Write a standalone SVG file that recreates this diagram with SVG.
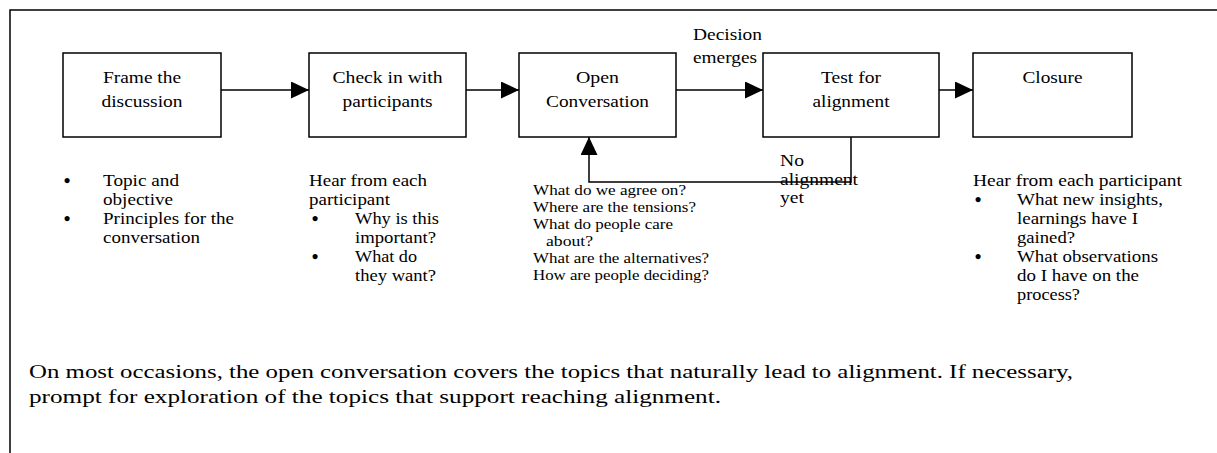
<svg xmlns="http://www.w3.org/2000/svg" width="1217" height="453" viewBox="0 0 1217 453">
<style>
.box{fill:#fff;stroke:#000;stroke-width:1.5}
.lbl{font-family:"Liberation Serif",serif;font-size:16px;fill:#000;text-anchor:middle}
.t{font-family:"Liberation Serif",serif;font-size:16px;fill:#000}
.s{font-family:"Liberation Serif",serif;font-size:14px;fill:#000}
.p{font-family:"Liberation Serif",serif;font-size:18px;fill:#000}
.b{font-family:"Liberation Serif",serif;font-size:19px;font-weight:bold;fill:#000;text-anchor:middle}
.c{fill:none;stroke:#000;stroke-width:1.5}
.frame{fill:none;stroke:#000;stroke-width:1.5}
</style>
<defs>
<marker id="ah" viewBox="0 0 18 17" refX="18" refY="8.5" markerWidth="18" markerHeight="17" markerUnits="userSpaceOnUse" orient="auto">
<path d="M0,0 L18,8.5 L0,17 z" fill="#000"/>
</marker>
</defs>
<rect width="1217" height="453" fill="#fff"/>
<path class="frame" d="M1217,10 H10 V453"/>

<g id="connectors">
<path class="c" d="M221,90 H309" marker-end="url(#ah)"/>
<path class="c" d="M466,90 H519" marker-end="url(#ah)"/>
<path class="c" d="M676,90 H763" marker-end="url(#ah)"/>
<path class="c" d="M939,90 H973" marker-end="url(#ah)"/>
<path class="c" d="M851,137 V182 H589 V137" marker-end="url(#ah)"/>
<text class="t" x="693" y="40" textLength="69" lengthAdjust="spacingAndGlyphs">Decision</text>
<text class="t" x="693" y="63" textLength="64" lengthAdjust="spacingAndGlyphs">emerges</text>
<text class="t" x="780" y="166" textLength="24" lengthAdjust="spacingAndGlyphs">No</text>
<text class="t" x="780" y="185" textLength="78" lengthAdjust="spacingAndGlyphs">alignment</text>
<text class="t" x="780" y="203" textLength="24" lengthAdjust="spacingAndGlyphs">yet</text>
</g>

<g id="frame-node">
<rect class="box" x="63" y="53" width="158" height="84"/>
<text class="lbl" x="142" y="83" textLength="78" lengthAdjust="spacingAndGlyphs">Frame the</text>
<text class="lbl" x="142" y="107" textLength="81" lengthAdjust="spacingAndGlyphs">discussion</text>
</g>
<g id="checkin-node">
<rect class="box" x="309" y="53" width="157" height="84"/>
<text class="lbl" x="387.5" y="83" textLength="110" lengthAdjust="spacingAndGlyphs">Check in with</text>
<text class="lbl" x="387.5" y="107" textLength="90" lengthAdjust="spacingAndGlyphs">participants</text>
</g>
<g id="open-node">
<rect class="box" x="519" y="53" width="157" height="84"/>
<text class="lbl" x="597.5" y="83" textLength="43" lengthAdjust="spacingAndGlyphs">Open</text>
<text class="lbl" x="597.5" y="107" textLength="103" lengthAdjust="spacingAndGlyphs">Conversation</text>
</g>
<g id="test-node">
<rect class="box" x="763" y="53" width="176" height="84"/>
<text class="lbl" x="851" y="83" textLength="60" lengthAdjust="spacingAndGlyphs">Test for</text>
<text class="lbl" x="851" y="107" textLength="77" lengthAdjust="spacingAndGlyphs">alignment</text>
</g>
<g id="closure-node">
<rect class="box" x="973" y="53" width="159" height="84"/>
<text class="lbl" x="1052.5" y="83" textLength="60" lengthAdjust="spacingAndGlyphs">Closure</text>
</g>

<g id="frame-notes">
<text class="b" x="67" y="187">•</text>
<text class="t" x="103" y="186" textLength="76" lengthAdjust="spacingAndGlyphs">Topic and</text>
<text class="t" x="103" y="205" textLength="70" lengthAdjust="spacingAndGlyphs">objective</text>
<text class="b" x="67" y="225">•</text>
<text class="t" x="103" y="224" textLength="131" lengthAdjust="spacingAndGlyphs">Principles for the</text>
<text class="t" x="103" y="243" textLength="97" lengthAdjust="spacingAndGlyphs">conversation</text>
</g>

<g id="checkin-notes">
<text class="t" x="309" y="186" textLength="118" lengthAdjust="spacingAndGlyphs">Hear from each</text>
<text class="t" x="309" y="205" textLength="81" lengthAdjust="spacingAndGlyphs">participant</text>
<text class="b" x="315" y="225">•</text>
<text class="t" x="355" y="224" textLength="84" lengthAdjust="spacingAndGlyphs">Why is this</text>
<text class="t" x="355" y="243" textLength="81" lengthAdjust="spacingAndGlyphs">important?</text>
<text class="b" x="315" y="263">•</text>
<text class="t" x="355" y="262" textLength="62" lengthAdjust="spacingAndGlyphs">What do</text>
<text class="t" x="355" y="281" textLength="81" lengthAdjust="spacingAndGlyphs">they want?</text>
</g>

<g id="open-notes">
<text class="s" x="533" y="195" textLength="153" lengthAdjust="spacingAndGlyphs">What do we agree on?</text>
<text class="s" x="533" y="212" textLength="163" lengthAdjust="spacingAndGlyphs">Where are the tensions?</text>
<text class="s" x="533" y="229" textLength="140" lengthAdjust="spacingAndGlyphs">What do people care</text>
<text class="s" x="546" y="246" textLength="47" lengthAdjust="spacingAndGlyphs">about?</text>
<text class="s" x="533" y="263" textLength="176" lengthAdjust="spacingAndGlyphs">What are the alternatives?</text>
<text class="s" x="533" y="280" textLength="176" lengthAdjust="spacingAndGlyphs">How are people deciding?</text>
</g>

<g id="closure-notes">
<text class="t" x="973" y="186" textLength="209" lengthAdjust="spacingAndGlyphs">Hear from each participant</text>
<text class="b" x="978" y="206">•</text>
<text class="t" x="1017" y="205" textLength="146" lengthAdjust="spacingAndGlyphs">What new insights,</text>
<text class="t" x="1017" y="224" textLength="121" lengthAdjust="spacingAndGlyphs">learnings have I</text>
<text class="t" x="1017" y="243" textLength="58" lengthAdjust="spacingAndGlyphs">gained?</text>
<text class="b" x="978" y="263">•</text>
<text class="t" x="1017" y="262" textLength="141" lengthAdjust="spacingAndGlyphs">What observations</text>
<text class="t" x="1017" y="281" textLength="122" lengthAdjust="spacingAndGlyphs">do I have on the</text>
<text class="t" x="1017" y="300" textLength="63" lengthAdjust="spacingAndGlyphs">process?</text>
</g>

<g id="footnote">
<text class="p" x="29" y="378" textLength="1044" lengthAdjust="spacingAndGlyphs">On most occasions, the open conversation covers the topics that naturally lead to alignment.  If necessary,</text>
<text class="p" x="29" y="403" textLength="692" lengthAdjust="spacingAndGlyphs">prompt  for exploration of the topics that support reaching alignment.</text>
</g>
</svg>
